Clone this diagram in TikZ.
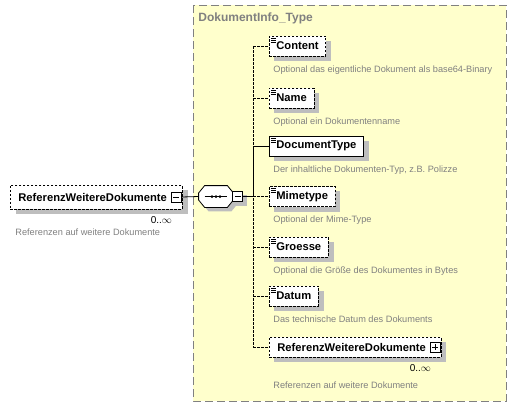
\documentclass[tikz,border=0pt]{standalone}
\usepackage{fontspec}
\setmainfont{Liberation Sans}
\usetikzlibrary{positioning,backgrounds}
\definecolor{typebg}{RGB}{255,255,204}
\definecolor{descgray}{RGB}{128,128,128}
\definecolor{shadowgray}{RGB}{190,190,190}

\begin{document}
\begin{tikzpicture}[x=1pt,y=-1pt,line width=0.8pt,
    elem/.style={draw, fill=white, minimum height=20pt, inner xsep=7pt,
      anchor=west, font=\fontsize{11.2}{13}\selectfont\bfseries},
    opt/.style={dash pattern=on 2.5pt off 1.5pt},
    simple/.style={path picture={
      \draw[solid, line width=0.7pt]
        ([xshift=1.5pt,yshift=-2pt]path picture bounding box.north west) -- ++(5pt,0pt)
        ++(-5pt,-2pt) -- ++(5pt,0pt) ++(-5pt,-2pt) -- ++(5pt,0pt);}},
    desc/.style={font=\fontsize{9.2}{11}\selectfont, text=descgray, inner sep=0pt},
    occurs/.style={font=\fontsize{10}{12}\selectfont, inner sep=0pt},
    toggle/.style={draw, solid, fill=white, minimum size=10pt, inner sep=0pt},
    minus/.style={toggle, path picture={
      \draw ([xshift=2pt]path picture bounding box.west) -- ([xshift=-2pt]path picture bounding box.east);}},
    plus/.style={toggle, path picture={
      \draw ([xshift=2pt]path picture bounding box.west) -- ([xshift=-2pt]path picture bounding box.east)
            ([yshift=-2pt]path picture bounding box.north) -- ([yshift=2pt]path picture bounding box.south);}},
    seq/.style={minimum width=34pt, minimum height=21pt, inner sep=0pt}]
  \useasboundingbox (0,0) rectangle (517,407);

  \node[anchor=west, inner sep=0pt, text=descgray,
    font=\fontsize{12}{14}\selectfont\bfseries] (title) at (198,18) {DokumentInfo\_Type};

  % element on the left
  \node[elem, opt, inner xsep=8pt, minimum height=24pt] (refl) at (10,197)
    {ReferenzWeitereDokumente\kern7pt};
  \node[minus, anchor=east] (reflm) at ([xshift=-0.5pt]refl.east) {};
  \node[occurs, below left=7pt and 10pt of refl.south east] (reflocc) {0..$\infty$};
  \node[desc, below right=19pt and 5pt of refl.south west] (refld)
    {Referenzen auf weitere Dokumente};

  % sequence
  \node[seq] (seq) at (216,196.5) {};
  \draw[fill=white] ([yshift=3.5pt]seq.west) -- ([xshift=6pt]seq.north west)
    -- ([xshift=-6pt]seq.north east) -- ([yshift=3.5pt]seq.east) -- ([yshift=-3.5pt]seq.east)
    -- ([xshift=-6pt]seq.south east) -- ([xshift=6pt]seq.south west)
    -- ([yshift=-3.5pt]seq.west) -- cycle;
  \draw[line width=1pt] ([xshift=6pt]seq.west) -- ([xshift=-6pt]seq.east);
  \fill ([xshift=-4pt]seq.center) circle (1.5pt) (seq.center) circle (1.5pt)
        ([xshift=4pt]seq.center) circle (1.5pt);
  \node[minus, anchor=west] (seqm) at ([xshift=-1pt]seq.east) {};
  \coordinate (bar) at (253,196.5);

  % children
  \node[elem, opt, simple] (content) at (269,46) {Content};
  \node[desc, below right=9pt and 4pt of content.south west] (contentd)
    {Optional das eigentliche Dokument als base64-Binary};
  \node[elem, opt, simple] (name) at (269,98) {Name};
  \node[desc, below right=9pt and 4pt of name.south west] (named)
    {Optional ein Dokumentenname};
  \node[elem, simple] (doctype) at (269,146) {DocumentType};
  \node[desc, below right=9pt and 4pt of doctype.south west] (doctyped)
    {Der inhaltliche Dokumenten-Typ, z.B. Polizze};
  \node[elem, opt, simple] (mime) at (269,196.5) {Mimetype};
  \node[desc, below right=9pt and 4pt of mime.south west] (mimed)
    {Optional der Mime-Type};
  \node[elem, opt, simple] (groesse) at (269,247) {Groesse};
  \node[desc, below right=9pt and 4pt of groesse.south west] (groessed)
    {Optional die Größe des Dokumentes in Bytes};
  \node[elem, opt, simple] (datum) at (269,296) {Datum};
  \node[desc, below right=9pt and 4pt of datum.south west] (datumd)
    {Das technische Datum des Dokuments};
  \node[elem, opt, inner xsep=8pt] (refr) at (269,347)
    {ReferenzWeitereDokumente\kern7pt};
  \node[plus, anchor=east] (refrm) at ([xshift=-0.5pt]refr.east) {};
  \node[occurs, below left=7pt and 10pt of refr.south east] (refrocc) {0..$\infty$};
  \node[desc, below right=24pt and 4pt of refr.south west] (refrd)
    {Referenzen auf weitere Dokumente};

  % connectors
  \draw (reflm.east) -- (seq.west);
  \draw (seqm.east) -- (bar);
  \draw[opt] (content.west -| bar) -- (refr.west -| bar);
  \draw (doctype.west -| bar) -- (bar);
  \draw (doctype.west -| bar) -- (doctype.west);
  \draw[opt] (content.west -| bar) -- (content.west);
  \draw[opt] (name.west -| bar) -- (name.west);
  \draw[opt] (bar) -- (mime.west);
  \draw[opt] (groesse.west -| bar) -- (groesse.west);
  \draw[opt] (datum.west -| bar) -- (datum.west);
  \draw[opt] (refr.west -| bar) -- (refr.west);

  % frame and shadows
  \begin{scope}[on background layer]
    \draw[draw=gray, fill=typebg, line width=0.8pt, dash pattern=on 8pt off 4pt]
      (193,5) rectangle (506,401);
    \fill[shadowgray] ([xshift=6pt,yshift=-5pt]refl.south west)
      rectangle ([xshift=6pt,yshift=-5pt]refl.north east);
    \foreach \n in {content,name,doctype,mime,groesse,datum,refr}
      \fill[shadowgray] ([xshift=5pt,yshift=-5pt]\n.south west)
        rectangle ([xshift=5pt,yshift=-5pt]\n.north east);
    \fill[shadowgray] ([xshift=4pt,yshift=-0.5pt]seq.west)
      -- ([xshift=10pt,yshift=-4pt]seq.north west) -- ([xshift=-2pt,yshift=-4pt]seq.north east)
      -- ([xshift=4pt,yshift=-0.5pt]seq.east) -- ([xshift=4pt,yshift=-7.5pt]seq.east)
      -- ([xshift=-2pt,yshift=-4pt]seq.south east) -- ([xshift=10pt,yshift=-4pt]seq.south west)
      -- ([xshift=4pt,yshift=-7.5pt]seq.west) -- cycle;
    \fill[shadowgray] ([xshift=4pt,yshift=-4pt]seqm.south west)
      rectangle ([xshift=4pt,yshift=-4pt]seqm.north east);
  \end{scope}
\end{tikzpicture}
\end{document}
